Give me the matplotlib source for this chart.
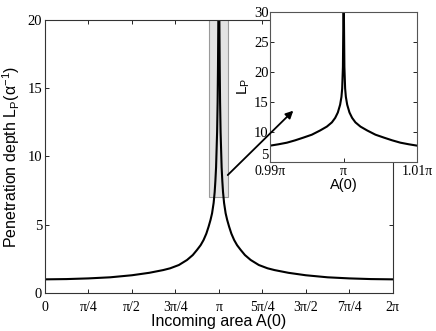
import numpy as np
import matplotlib
matplotlib.use("Agg")
from matplotlib import pyplot as plt
from matplotlib.patches import Rectangle

# main curve, left half (A in units of pi, L_P); the curve is symmetric about pi
main_a = [0.0, 0.125, 0.25, 0.375, 0.5, 0.6, 0.68, 0.72, 0.77, 0.817, 0.85,
          0.874, 0.895, 0.912, 0.928, 0.941, 0.952, 0.961, 0.970, 0.976,
          0.980, 0.984, 0.987, 0.990, 0.993, 0.995, 0.997, 0.999, 0.9999]
main_l = [1.0, 1.02, 1.07, 1.15, 1.3, 1.48, 1.68, 1.81, 2.05, 2.42, 2.78,
          3.15, 3.5, 3.88, 4.35, 4.86, 5.35, 5.84, 6.6, 7.4,
          8.2, 9.2, 10.5, 11.8, 14.0, 16.5, 20.0, 30.0, 40.0]

# inset curve: distance from pi (units of pi) and L_P
inset_d = [0.01, 0.00885, 0.0077, 0.00659, 0.0055, 0.00432, 0.0032, 0.00228,
           0.0016, 0.00115, 0.00079, 0.00048, 0.0003, 0.0002, 0.0001,
           0.00003, 0.00001]
inset_l = [7.67, 7.9, 8.17, 8.56, 9.0, 9.5, 10.2, 10.85,
           11.55, 12.3, 13.2, 14.5, 15.8, 17.2, 20.8, 30.0, 35.0]

main_ticks = [0, 0.25, 0.5, 0.75, 1, 1.25, 1.5, 1.75, 2]
main_ticklabels = ["0", "π/4", "π/2", "3π/4", "π", "5π/4", "3π/2", "7π/4", "2π"]
inset_ticks = [0.99, 1.0, 1.01]
inset_ticklabels = ["0.99π", "π", "1.01π"]

plt.rcParams["mathtext.fontset"] = "custom"
plt.rcParams["mathtext.rm"] = "Liberation Sans"
plt.rcParams["mathtext.it"] = "Liberation Sans:italic"
serif = "Liberation Serif"
sans = "Liberation Sans"

fig = plt.figure(figsize=(4.36, 3.31), dpi=100)
ax = fig.add_axes([0.1032, 0.1148, 0.7975, 0.8248])

a = np.array(main_a)
l = np.array(main_l)
xs = np.concatenate([a, 2 - a[::-1]]) * np.pi
ys = np.concatenate([l, l[::-1]])

ax.add_patch(Rectangle((0.946 * np.pi, 7), 0.108 * np.pi, 13.2,
                       facecolor="#e3e3e3", edgecolor="#9a9a9a", lw=0.8, zorder=1))
ax.plot(xs, ys, color="k", lw=1.5, zorder=2)
ax.set_xlim(0, 2 * np.pi)
ax.set_ylim(0, 20)
ax.set_xticks(np.array(main_ticks) * np.pi)
ax.set_xticklabels(main_ticklabels, family=serif, fontsize=10)
ax.set_yticks([0, 5, 10, 15, 20])
ax.set_yticklabels(["0", "5", "10", "15", "20"], family=serif, fontsize=10.5)
ax.tick_params(direction="in", top=True, right=True, length=3, width=0.6)
ax.tick_params(axis="x", pad=6)
ax.tick_params(axis="y", pad=2)
ax.set_xlabel("Incoming area A(0)", family=sans, fontsize=11.5, labelpad=0)
ax.set_ylabel(r"Penetration depth L$_\mathrm{P}$($\mathrm{\alpha}^{-1}$)",
              family=sans, fontsize=11.5, labelpad=4)
for s in ax.spines.values():
    s.set_linewidth(0.8)
    s.set_color("#333333")

# inset
ins = fig.add_axes([0.6193, 0.5115, 0.3378, 0.4532])
d = np.array(inset_d)
il = np.array(inset_l)
ix = np.concatenate([1 - d, 1 + d[::-1]]) * np.pi
iy = np.concatenate([il, il[::-1]])
ins.plot(ix, iy, color="k", lw=1.5)
ins.set_xlim(0.99 * np.pi, 1.01 * np.pi)
ins.set_ylim(5, 30)
ins.set_xticks(np.array(inset_ticks) * np.pi)
ins.set_xticklabels(inset_ticklabels, family=serif, fontsize=10)
ins.set_yticks([5, 10, 15, 20, 25, 30])
ins.set_yticklabels(["5", "10", "15", "20", "25", "30"], family=serif, fontsize=10.5)
ins.get_yticklabels()[0].set_va("bottom")
ins.tick_params(direction="in", top=True, right=True, length=3, pad=1, width=0.6)
ins.tick_params(axis="x", pad=2.5)
ins.set_xlabel("A(0)", family=sans, fontsize=10.5, labelpad=0)
ins.set_ylabel(r"L$_\mathrm{P}$", family=sans, fontsize=11, labelpad=1)
for s in ins.spines.values():
    s.set_linewidth(0.8)
    s.set_color("#555555")

ins.annotate("", xy=(0.99316 * np.pi, 13.5), xycoords="data",
             xytext=(1.051 * np.pi, 8.64), textcoords=ax.transData,
             arrowprops=dict(arrowstyle="-|>", color="k", lw=1.3, mutation_scale=11,
                             shrinkA=0, shrinkB=0),
             annotation_clip=False)

plt.savefig("out.png", dpi=100)
